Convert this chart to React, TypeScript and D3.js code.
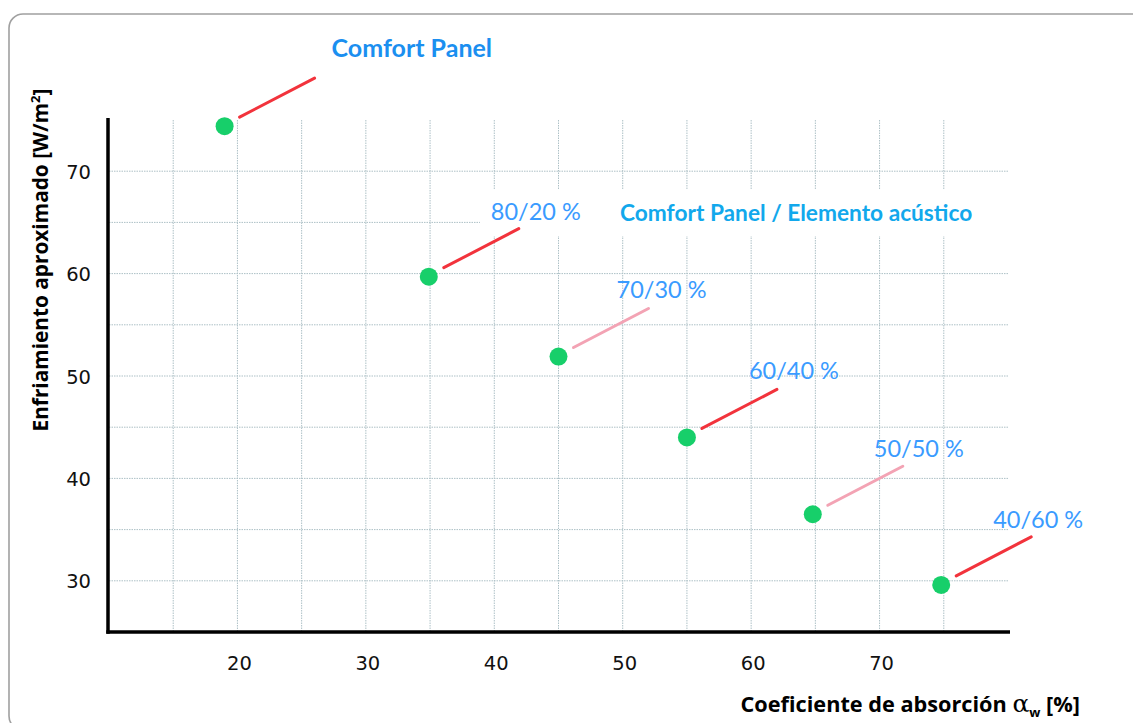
import React from "react";
import * as d3 from "d3";

const absorption = [19, 34.9, 45, 55, 64.8, 74.8];
const cooling = [74.4, 59.7, 51.9, 44.0, 36.5, 29.6];
const pointLabels = ["Comfort Panel", "80/20 %", "70/30 %", "60/40 %", "50/50 %", "40/60 %"];
const leaderTone = ["strong", "strong", "soft", "strong", "soft", "strong"];
const xTicks = [20, 30, 40, 50, 60, 70];
const yTicks = [30, 40, 50, 60, 70];
const xGrid = [15, 20, 25, 30, 35, 40, 45, 50, 55, 60, 65, 70, 75];
const yGrid = [30, 35, 40, 45, 50, 55, 60, 65, 70];
const groupTitle = "Comfort Panel / Elemento acústico";
const xTitle = "Coeficiente de absorción ";
const yTitle = "Enfriamiento aproximado [W/m";

// layout nudges for the annotation labels (pixels, relative to each point)
const LABEL_DX = [107, 62, 58, 62, 61, 52];
const LABEL_DY = [-69, -57, -59, -58, -57, -57];

const W = 1133;
const H = 723;

export default function App() {
  const x = d3.scaleLinear().domain([10, 80]).range([109, 1008]);
  const y = d3.scaleLinear().domain([25, 75]).range([632, 120]);
  const gridColor = "#adc0c6";
  const labelFont = "Lato, 'Open Sans', sans-serif";
  const tickFont = "'DejaVu Sans', sans-serif";
  const titleFont = "'Open Sans', sans-serif";

  return (
    <div style={{ position: "absolute", left: 0, top: 0 }}>
      <svg width={W} height={H} style={{ display: "block", background: "#fff" }}>
        <rect x={9} y={14} width={1150} height={716} rx={14} fill="#fff" stroke="#a0a0a0" strokeWidth={1.6} />

        {/* grid */}
        {xGrid.map((v) => (
          <line key={"gx" + v} x1={x(v)} x2={x(v)} y1={y(75)} y2={y(25)} stroke={gridColor} strokeWidth={1} strokeDasharray="1.5,1" />
        ))}
        {yGrid.map((v) => (
          <line key={"gy" + v} x1={x(10)} x2={x(80)} y1={y(v)} y2={y(v)} stroke={gridColor} strokeWidth={1} strokeDasharray="1.5,1" />
        ))}

        {/* white label backgrounds */}
        <rect x={480} y={190} width={530} height={46} fill="#fff" />

        {/* axes */}
        <line x1={x(10) - 1} x2={x(10) - 1} y1={118} y2={y(25) + 1.8} stroke="#000" strokeWidth={3.5} />
        <line x1={x(10) - 2.7} x2={x(80) + 2} y1={y(25)} y2={y(25)} stroke="#000" strokeWidth={3.5} />

        {/* tick labels */}
        {xTicks.map((v) => (
          <text key={"xt" + v} x={x(v) + 2} y={670} textAnchor="middle" fontFamily={tickFont} fontSize={19.5} fill="#111">
            {v}
          </text>
        ))}
        {yTicks.map((v) => (
          <text key={"yt" + v} x={91} y={y(v) + 7.5} textAnchor="end" fontFamily={tickFont} fontSize={19.5} fill="#111">
            {v}
          </text>
        ))}

        {/* leaders */}
        {absorption.map((v, i) => (
          <line
            key={"ld" + i}
            x1={x(v) + 15}
            y1={y(cooling[i]) - 9}
            x2={x(v) + 90}
            y2={y(cooling[i]) - 48}
            stroke={leaderTone[i] === "strong" ? "#f2333c" : "#f3a3b4"}
            strokeWidth={3}
            strokeLinecap="round"
          />
        ))}

        {/* points */}
        {absorption.map((v, i) => (
          <circle key={"pt" + i} cx={x(v)} cy={y(cooling[i])} r={9} fill="#17cf6a" />
        ))}

        {/* point labels */}
        {absorption.map((v, i) => (
          <text
            key={"lb" + i}
            x={x(v) + LABEL_DX[i]}
            y={y(cooling[i]) + LABEL_DY[i]}
            fontFamily={labelFont}
            fontSize={i === 0 ? 25 : 23.5}
            fontWeight={i === 0 ? 700 : 400}
            fill={i === 0 ? "#1b8ff0" : "#3a9bff"}
          >
            {pointLabels[i]}
          </text>
        ))}

        <text x={620} y={221} fontFamily={labelFont} fontSize={22.7} fontWeight={700} fill="#12a8ec">
          {groupTitle}
        </text>

        {/* axis titles */}
        <text
          transform={`translate(48, 260) rotate(-90)`}
          textAnchor="middle"
          fontFamily={titleFont}
          fontSize={20.8}
          fontWeight={700}
          fill="#000"
        >
          {yTitle}
          <tspan dy={-8} fontSize={13}>2</tspan>
          <tspan dy={8}>]</tspan>
        </text>
        <text x={1080} y={712} textAnchor="end" fontFamily={titleFont} fontSize={21.7} fontWeight={700} fill="#000">
          {xTitle}
          <tspan fontWeight={400} fontSize={25} fontFamily="'DejaVu Serif', serif">α</tspan>
          <tspan dy={5} fontSize={13}>w</tspan>
          <tspan dy={-5}> [%]</tspan>
        </text>
      </svg>
    </div>
  );
}
